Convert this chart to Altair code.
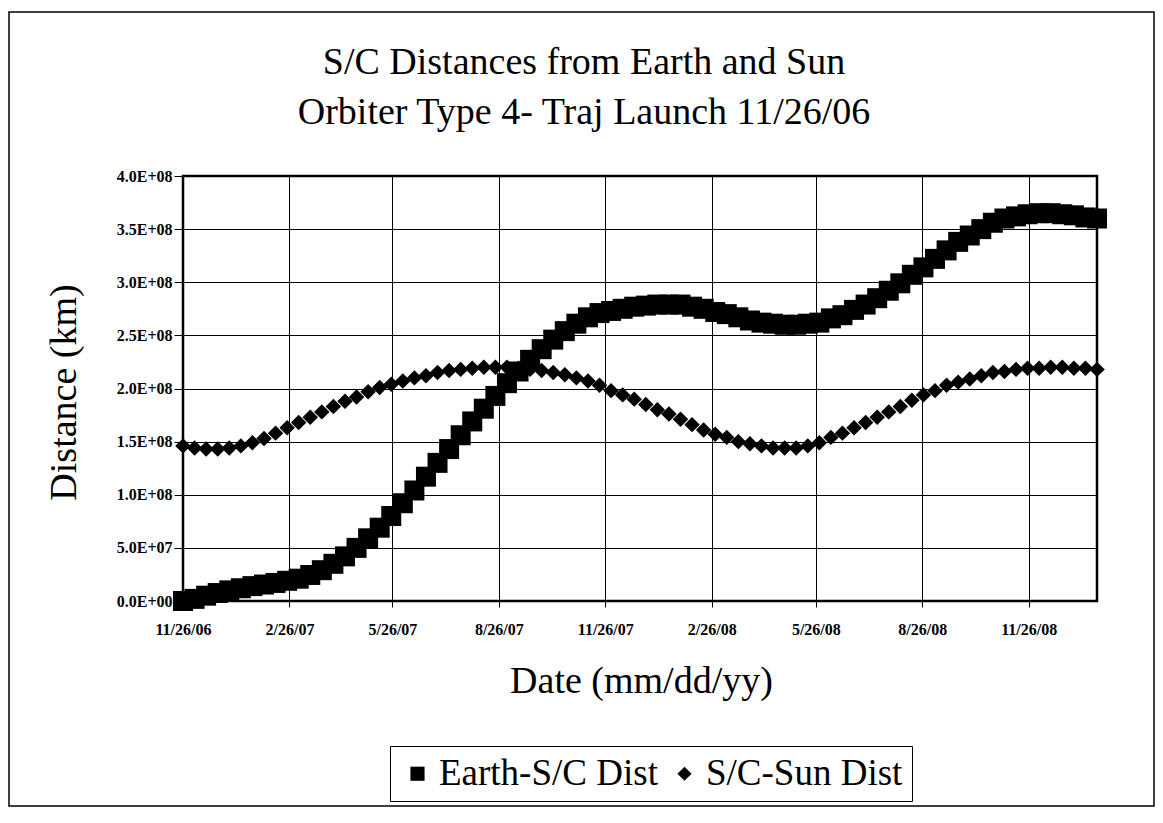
import altair as alt
import pandas as pd

# ---------------- data (distances in units of 1e8 km, one sample every 10 days) ----------------
start_date = "2006-11-26"
n_points = 80
dates = pd.date_range(start_date, periods=n_points, freq="10D").strftime("%Y-%m-%d").tolist()

earth_sc = [
    0.00, 0.02, 0.05, 0.075, 0.10, 0.12, 0.14, 0.155, 0.17, 0.19,
    0.21, 0.245, 0.29, 0.35, 0.42, 0.50, 0.59, 0.69, 0.80, 0.92,
    1.04, 1.17, 1.30, 1.43, 1.56, 1.69, 1.81, 1.93, 2.05, 2.16,
    2.27, 2.37, 2.46, 2.54, 2.61, 2.67, 2.71, 2.73, 2.75, 2.77,
    2.78, 2.79, 2.79, 2.79, 2.77, 2.75, 2.72, 2.70, 2.67, 2.64,
    2.62, 2.61, 2.60, 2.60, 2.61, 2.62, 2.66, 2.69, 2.74, 2.79,
    2.85, 2.92, 2.99, 3.07, 3.14, 3.22, 3.30, 3.38, 3.44, 3.50,
    3.56, 3.60, 3.62, 3.64, 3.65, 3.65, 3.64, 3.63, 3.61, 3.60,
]

sc_sun = [
    1.46, 1.44, 1.43, 1.43, 1.44, 1.46, 1.49, 1.53, 1.58, 1.63,
    1.68, 1.73, 1.78, 1.83, 1.88, 1.92, 1.97, 2.01, 2.04, 2.07,
    2.10, 2.12, 2.15, 2.17, 2.18, 2.19, 2.20, 2.20, 2.20, 2.19,
    2.18, 2.17, 2.15, 2.13, 2.10, 2.07, 2.03, 1.98, 1.94, 1.90,
    1.85, 1.80, 1.76, 1.71, 1.66, 1.61, 1.57, 1.54, 1.50, 1.48,
    1.46, 1.44, 1.44, 1.44, 1.46, 1.49, 1.54, 1.58, 1.63, 1.68,
    1.73, 1.78, 1.83, 1.89, 1.94, 1.98, 2.03, 2.06, 2.09, 2.12,
    2.15, 2.16, 2.18, 2.19, 2.19, 2.20, 2.20, 2.19, 2.19, 2.18,
]

series_names = ["Earth-S/C Dist", "S/C-Sun Dist"]
series_shapes = ["square", "diamond"]
series_sizes = [400, 240]

tick_dates = [
    (2006, 11, 26), (2007, 2, 26), (2007, 5, 26), (2007, 8, 26), (2007, 11, 26),
    (2008, 2, 26), (2008, 5, 26), (2008, 8, 26), (2008, 11, 26),
]
x_domain = [(2006, 11, 26), (2009, 1, 24)]
y_ticks = [0, 5e7, 1e8, 1.5e8, 2e8, 2.5e8, 3e8, 3.5e8, 4e8]

title_lines = ["S/C Distances from Earth and Sun", "Orbiter Type 4- Traj Launch 11/26/06"]

df_earth = pd.DataFrame({"date": dates, "dist": [v * 1e8 for v in earth_sc], "series": series_names[0]})
df_sun = pd.DataFrame({"date": dates, "dist": [v * 1e8 for v in sc_sun], "series": series_names[1]})

FONT = "Liberation Serif"


def dt(t):
    return alt.DateTime(year=t[0], month=t[1], date=t[2], utc=True)


x_axis = alt.Axis(
    values=[dt(t) for t in tick_dates],
    labelExpr="utcFormat(datum.value, '%-m/%d/%y')",
    labelFont=FONT, labelFontWeight="bold", labelFontSize=16, labelColor="black",
    labelPadding=14, labelFlush=False, labelOverlap=False,
    tickSize=6, tickColor="black", tickWidth=1,
    grid=True, gridColor="black", gridWidth=1, gridOpacity=1,
    domain=False,
    title="Date (mm/dd/yy)", titleFont=FONT, titleFontSize=38, titleFontWeight="normal",
    titleColor="black", titleX=458, titleY=91, titleBaseline="alphabetic", titleAlign="center",
)

y_axis = alt.Axis(
    values=y_ticks,
    labelExpr="replace(format(datum.value, '.1e'), 'e+', 'E+0')",
    labelFont=FONT, labelFontWeight="bold", labelFontSize=16, labelColor="black",
    labelPadding=2,
    tickSize=9, tickColor="black", tickWidth=1,
    grid=True, gridColor="black", gridWidth=1, gridOpacity=1,
    domain=False,
    title="Distance (km)", titleFont=FONT, titleFontSize=38, titleFontWeight="normal",
    titleColor="black", titleAngle=270, titleX=-108, titleY=216,
    titleBaseline="alphabetic", titleAlign="center",
)

x_enc = alt.X("date:T", scale=alt.Scale(type="utc", domain=[dt(t) for t in x_domain]), axis=x_axis)
y_enc = alt.Y("dist:Q", scale=alt.Scale(domain=[0, 4e8], nice=False), axis=y_axis)
shape_enc = alt.Shape(
    "series:N",
    scale=alt.Scale(domain=series_names, range=series_shapes),
    legend=alt.Legend(title=None, orient="none", legendX=207, legendY=570, direction="horizontal"),
)

earth_layer = alt.Chart(df_earth).mark_point(
    filled=True, opacity=1, color="black", size=series_sizes[0]
).encode(x=x_enc, y=y_enc, shape=shape_enc)

sun_layer = alt.Chart(df_sun).mark_point(
    filled=True, opacity=1, color="black", size=series_sizes[1]
).encode(x=x_enc, y=y_enc, shape=shape_enc)

frame = alt.Chart(alt.Data(values=[{}])).mark_rect(
    filled=False, stroke="black", strokeWidth=1.5
).encode(
    x=alt.value(-174), x2=alt.value(971), y=alt.value(-164), y2=alt.value(630)
)

chart = alt.layer(frame, earth_layer, sun_layer).properties(
    width=914,
    height=425,
    background="white",
    autosize=alt.AutoSizeParams(type="none"),
    padding={"left": 175, "top": 168, "right": 58, "bottom": 207},
    title=alt.TitleParams(
        text=title_lines, font=FONT, fontSize=38, fontWeight="normal", color="black",
        anchor="middle", frame="group", dx=-56, dy=159, offset=0, lineHeight=50, baseline="bottom",
    ),
).configure_view(
    stroke="black", strokeWidth=2.5
).configure_legend(
    labelFont=FONT, labelFontSize=37, labelColor="black", labelLimit=500,
    symbolSize=200, symbolFillColor="black", symbolStrokeColor="black", symbolOpacity=1,
    strokeColor="black", fillColor="white", padding=9, columnPadding=8,
    labelOffset=3, cornerRadius=0,
)

chart.save("out.html", embed_options={"renderer": "svg", "actions": False})
